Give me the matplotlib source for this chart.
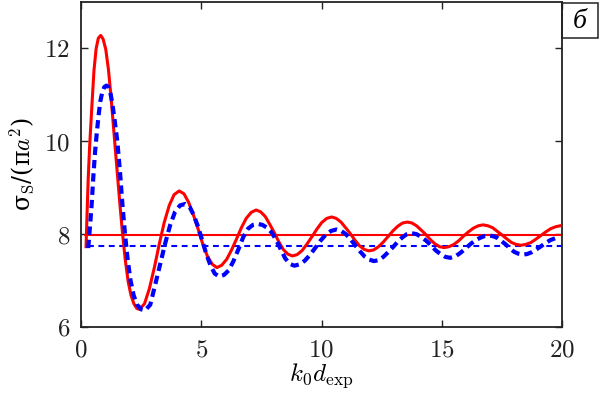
import matplotlib
matplotlib.use("Agg")
import matplotlib.pyplot as plt
from matplotlib.patches import Rectangle
from matplotlib.ticker import FuncFormatter

plt.rcParams['mathtext.fontset'] = 'cm'
plt.rcParams['font.family'] = ['DejaVu Serif']

# solid red curve
red_x = [0.21, 0.25, 0.30, 0.36, 0.45, 0.54, 0.63, 0.72, 0.82, 0.92, 1.03, 1.14, 1.25, 1.36, 1.48, 1.60, 1.72,
         1.84, 1.96, 2.08, 2.20, 2.32, 2.43,
         2.64, 2.84, 3.05, 3.26, 3.46, 3.67, 3.87, 4.08,
         4.28, 4.47, 4.67, 4.87, 5.06, 5.26, 5.46, 5.65,
         5.85, 6.06, 6.26, 6.47, 6.67, 6.87, 7.08, 7.28,
         7.47, 7.66, 7.85, 8.04, 8.22, 8.41, 8.60, 8.79,
         8.99, 9.20, 9.40, 9.61, 9.81, 10.01, 10.22, 10.42,
         10.61, 10.81, 11.00, 11.20, 11.39, 11.58, 11.78, 11.97,
         12.17, 12.37, 12.57, 12.77, 12.97, 13.17, 13.37, 13.57,
         13.76, 13.95, 14.14, 14.34, 14.53, 14.72, 14.91, 15.10,
         15.30, 15.51, 15.71, 15.91, 16.11, 16.32, 16.52, 16.72,
         16.92, 17.11, 17.31, 17.51, 17.70, 17.90, 18.09, 18.29,
         18.50, 18.71, 18.91, 19.12, 19.33, 19.54, 19.74, 19.92]
red_y = [7.73, 8.40, 9.20, 9.90, 10.74, 11.53, 12.00, 12.22, 12.28, 12.20, 11.98, 11.55, 10.95, 10.25, 9.50, 8.75, 8.05,
         7.45, 6.98, 6.68, 6.50, 6.40, 6.38,
         6.50, 6.82, 7.28, 7.80, 8.25, 8.62, 8.85, 8.93,
         8.87, 8.69, 8.42, 8.11, 7.79, 7.52, 7.35, 7.28,
         7.33, 7.46, 7.66, 7.90, 8.14, 8.34, 8.47, 8.52,
         8.48, 8.38, 8.21, 8.03, 7.84, 7.67, 7.57, 7.53,
         7.56, 7.65, 7.79, 7.95, 8.11, 8.25, 8.34, 8.37,
         8.34, 8.26, 8.14, 8.01, 7.87, 7.75, 7.67, 7.64,
         7.66, 7.73, 7.83, 7.95, 8.07, 8.17, 8.24, 8.26,
         8.24, 8.18, 8.09, 7.99, 7.88, 7.79, 7.73, 7.71,
         7.73, 7.78, 7.86, 7.96, 8.05, 8.13, 8.18, 8.20,
         8.18, 8.14, 8.06, 7.98, 7.90, 7.82, 7.78, 7.76,
         7.78, 7.82, 7.89, 7.97, 8.05, 8.12, 8.16, 8.18]

# dashed blue curve
blue_x = [0.30, 0.38, 0.45, 0.52, 0.59, 0.66, 0.73, 0.80, 0.88, 0.97, 1.06, 1.14, 1.22, 1.30, 1.40, 1.51, 1.62,
          1.72, 1.83, 1.94, 2.06, 2.19, 2.33, 2.50, 2.67,
          2.88, 3.08, 3.29, 3.50, 3.71, 3.91, 4.12, 4.33,
          4.51, 4.68, 4.86, 5.04, 5.21, 5.39, 5.56, 5.74,
          5.94, 6.14, 6.34, 6.55, 6.75, 6.95, 7.15, 7.35,
          7.54, 7.73, 7.92, 8.11, 8.30, 8.49, 8.68, 8.87,
          9.09, 9.31, 9.53, 9.75, 9.96, 10.18, 10.40, 10.62,
          10.82, 11.01, 11.21, 11.40, 11.60, 11.79, 11.99, 12.18,
          12.38, 12.57, 12.77, 12.97, 13.16, 13.36, 13.55, 13.75,
          13.95, 14.15, 14.35, 14.55, 14.75, 14.95, 15.15, 15.35,
          15.56, 15.76, 15.97, 16.18, 16.38, 16.59, 16.79, 17.00,
          17.17, 17.34, 17.51, 17.68, 17.84, 18.01, 18.18, 18.35,
          18.54, 18.74, 18.93, 19.13, 19.32, 19.51, 19.71, 19.90]
blue_y = [7.70, 8.20, 8.70, 9.30, 9.80, 10.20, 10.55, 10.85, 11.05, 11.17, 11.20, 11.17, 11.05, 10.82, 10.45, 10.00, 9.35,
          8.65, 8.00, 7.45, 7.00, 6.68, 6.48, 6.38, 6.36,
          6.48, 6.90, 7.35, 7.80, 8.20, 8.48, 8.62, 8.65,
          8.59, 8.42, 8.17, 7.87, 7.57, 7.32, 7.15, 7.09,
          7.12, 7.22, 7.42, 7.68, 7.94, 8.12, 8.20, 8.22,
          8.20, 8.14, 8.04, 7.88, 7.68, 7.48, 7.36, 7.32,
          7.35, 7.43, 7.56, 7.71, 7.86, 7.99, 8.07, 8.10,
          8.07, 8.00, 7.89, 7.76, 7.63, 7.52, 7.45, 7.42,
          7.44, 7.51, 7.61, 7.72, 7.83, 7.93, 8.00, 8.02,
          8.00, 7.94, 7.86, 7.76, 7.65, 7.57, 7.51, 7.49,
          7.52, 7.59, 7.68, 7.78, 7.86, 7.92, 7.96, 7.97,
          7.95, 7.91, 7.84, 7.77, 7.69, 7.62, 7.58, 7.56,
          7.57, 7.61, 7.67, 7.74, 7.81, 7.87, 7.91, 7.94]

# horizontal reference levels
red_level = 7.98
blue_level = 7.74
red_level_x = [0.15, 20.0]
blue_level_x = [0.30, 20.0]

x_ticks = [0, 5, 10, 15, 20]
y_ticks = [6, 8, 10, 12]
panel_label = "б"

fig = plt.figure(figsize=(6.0, 3.99), dpi=100)
ax = fig.add_axes([81/600, 1-327/399, 481/600, 325/399])

ax.plot(red_level_x, [red_level, red_level], color='#ff0000', lw=1.5, zorder=2)
ax.plot(blue_level_x, [blue_level, blue_level], color='#0000ff', lw=1.5,
        dashes=(2.8, 2.2), zorder=2)
ax.plot(red_x, red_y, color='#ff0000', lw=2.2, zorder=3, solid_joinstyle='round')
ax.plot(blue_x, blue_y, color='#0000ff', lw=3.0, dashes=(2.0, 1.2), zorder=4)

ax.set_xlim(0, 20)
ax.set_ylim(6, 13)
ax.set_xticks(x_ticks)
ax.set_yticks(y_ticks)
fmt = FuncFormatter(lambda v, p: r'$%g$' % v)
ax.xaxis.set_major_formatter(fmt)
ax.yaxis.set_major_formatter(fmt)
ax.tick_params(direction='in', length=5, width=1.0, top=True, right=True,
               labelsize=18, colors='#222222', pad=8)
for s in ax.spines.values():
    s.set_linewidth(1.3)
    s.set_color('#222222')

ax.set_xlabel(r'$k_0 d_{\rm exp}$', fontsize=18, labelpad=0)
ax.set_ylabel(r'σ$_{\rm S}$/(π$a^2$)', fontsize=17, labelpad=6)

fig.add_artist(Rectangle((562/600, 1-38/399), 36/600, 35/399, transform=fig.transFigure,
                         fill=False, lw=1.1, edgecolor='#222222'))
fig.text(580/600, 1-21/399, panel_label, ha='center', va='center', fontsize=20,
         fontstyle='italic', family=['Liberation Serif', 'DejaVu Serif'])

fig.savefig('out.png', dpi=100)
